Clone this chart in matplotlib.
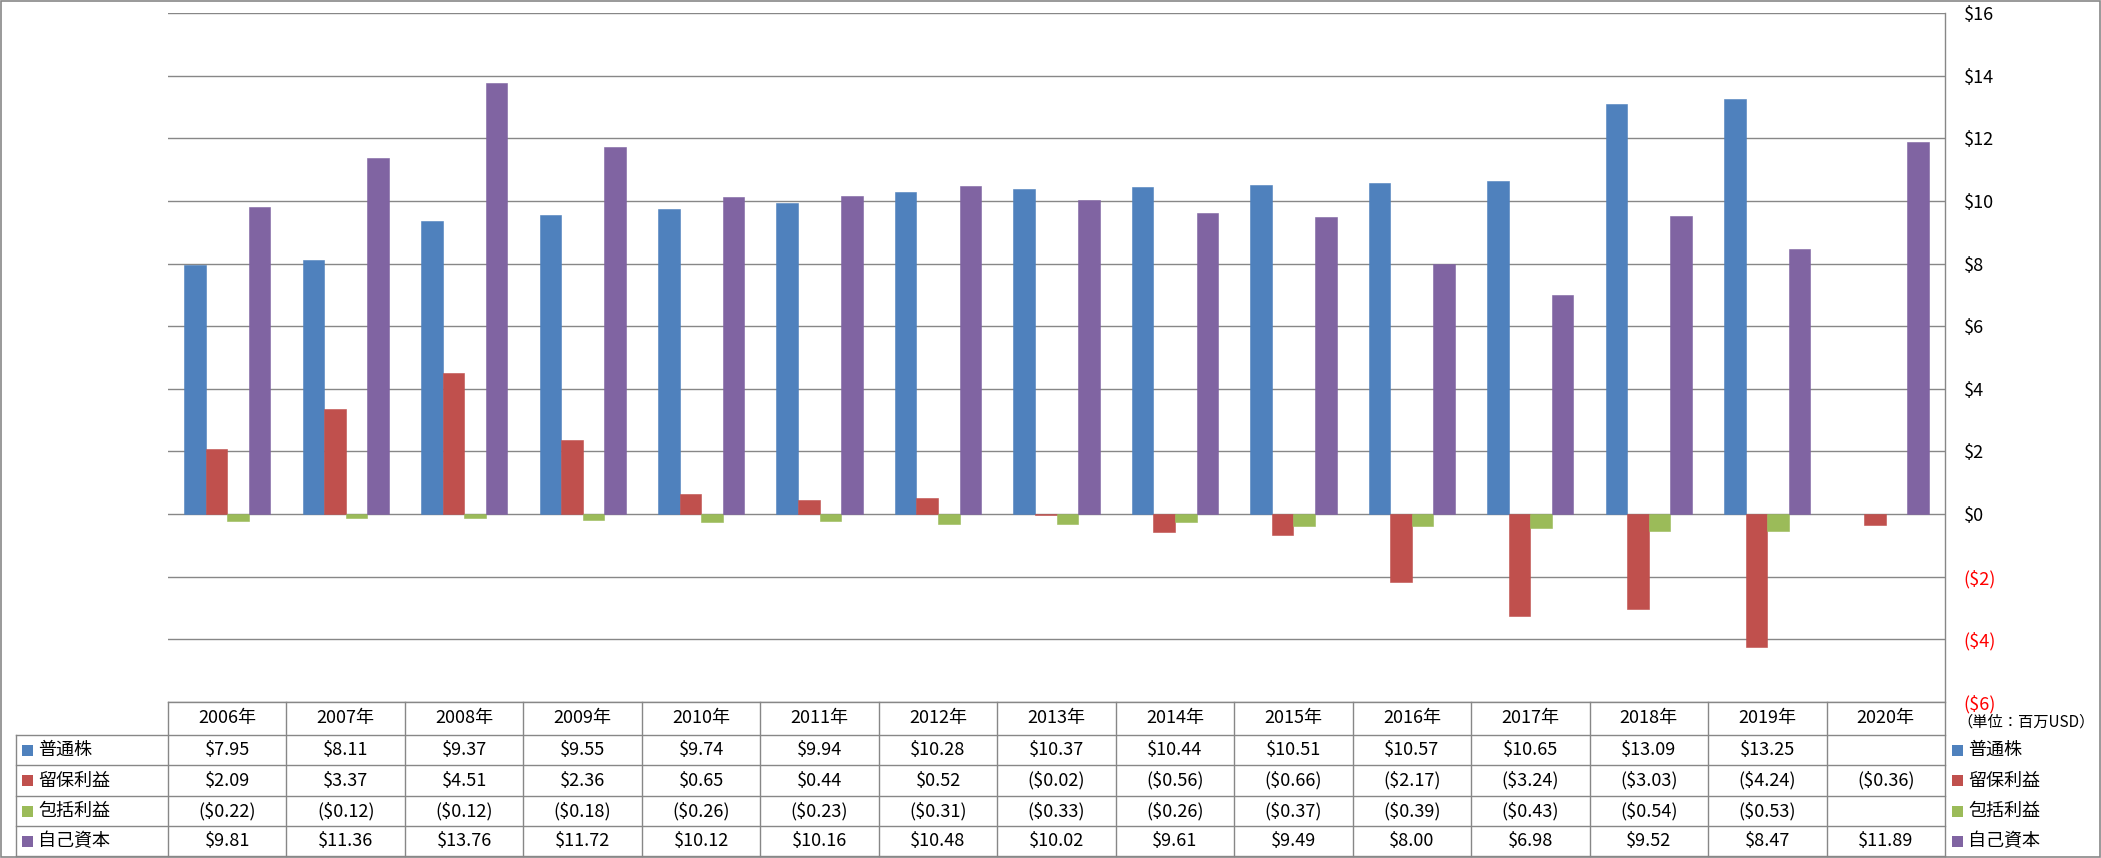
import matplotlib
matplotlib.use("Agg")
import matplotlib.pyplot as plt
import numpy as np
from matplotlib.lines import Line2D
from matplotlib.patches import Rectangle

plt.rcParams['font.family'] = ['Noto Sans CJK JP', 'DejaVu Sans']

years = ['2006年', '2007年', '2008年', '2009年', '2010年', '2011年', '2012年', '2013年',
         '2014年', '2015年', '2016年', '2017年', '2018年', '2019年', '2020年']
series_names = ['普通株', '留保利益', '包括利益', '自己資本']
common_stock = [7.95, 8.11, 9.37, 9.55, 9.74, 9.94, 10.28, 10.37, 10.44, 10.51, 10.57, 10.65, 13.09, 13.25, None]
retained_earnings = [2.09, 3.37, 4.51, 2.36, 0.65, 0.44, 0.52, -0.02, -0.56, -0.66, -2.17, -3.24, -3.03, -4.24, -0.36]
comprehensive_income = [-0.22, -0.12, -0.12, -0.18, -0.26, -0.23, -0.31, -0.33, -0.26, -0.37, -0.39, -0.43, -0.54, -0.53, None]
equity = [9.81, 11.36, 13.76, 11.72, 10.12, 10.16, 10.48, 10.02, 9.61, 9.49, 8.00, 6.98, 9.52, 8.47, 11.89]
yticks = [-6, -4, -2, 0, 2, 4, 6, 8, 10, 12, 14, 16]
unit_label = '（単位：百万USD）'

series = [common_stock, retained_earnings, comprehensive_income, equity]
colors = ['#4F81BD', '#C0504D', '#9BBB59', '#8064A2']
GRID = '#878787'
FS = 13

W, H = 2101, 858
fig = plt.figure(figsize=(W / 100, H / 100), dpi=100)
fig.patch.set_facecolor('white')


def fx(px):
    return px / W


def fy(py):
    return 1 - py / H


PL, PR, PT, PB = 168, 1945, 13, 702
ax = fig.add_axes([fx(PL), fy(PB), (PR - PL) / W, (PB - PT) / H])
ax.set_xlim(-0.5, len(years) - 0.5)
ax.set_ylim(yticks[0], yticks[-1])

n = len(series)
bw = 1 / (n + 1.5)
x = np.arange(len(years))
for i, (vals, c) in enumerate(zip(series, colors)):
    v = np.array([np.nan if a is None else a for a in vals], dtype=float)
    ax.bar(x + (i - (n - 1) / 2) * bw, v, width=bw, color=c, zorder=3,
           edgecolor=c, linewidth=0.4)


def money(v, short=False):
    if short:
        s = f"${abs(v):.0f}"
    else:
        s = f"${abs(v):.2f}"
    return f"({s})" if v < 0 else s


ax.set_yticks(yticks)
ax.yaxis.tick_right()
ax.set_yticklabels([money(t, True) for t in yticks])
for lbl, t in zip(ax.get_yticklabels(), yticks):
    lbl.set_color('#FF0000' if t < 0 else 'black')
ax.tick_params(axis='y', length=0, pad=13.5, labelsize=FS)
ax.set_xticks([])
ax.grid(axis='y', color=GRID, linewidth=1.0, zorder=0)
for s in ax.spines.values():
    s.set_visible(False)


def hline(y, x0, x1):
    fig.add_artist(Line2D([fx(x0), fx(x1)], [fy(y), fy(y)], transform=fig.transFigure,
                          color=GRID, lw=1.0))


def vline(xp, y0, y1):
    fig.add_artist(Line2D([fx(xp), fx(xp)], [fy(y0), fy(y1)], transform=fig.transFigure,
                          color=GRID, lw=1.0))


# outer frame
fig.add_artist(Rectangle((fx(1), fy(857)), (W - 2) / W, 856 / H, transform=fig.transFigure,
                         fill=False, edgecolor=GRID, lw=1.2))

# right axis line
vline(PR, PT, 856)

# data table
rows = [702, 735, 765, 796, 826, 856]
TL = 16
colw = (PR - PL) / len(years)
hline(rows[0], PL, PR)
for r in rows[1:]:
    hline(r, TL, PR)
vline(TL, rows[1], rows[-1])
for k in range(len(years)):
    vline(PL + k * colw, rows[0], rows[-1])

for k, yr in enumerate(years):
    cx = PL + (k + 0.5) * colw
    fig.text(fx(cx), fy((rows[0] + rows[1]) / 2), yr, ha='center', va='center', fontsize=FS)
    for i, vals in enumerate(series):
        v = vals[k]
        if v is None:
            continue
        cy = (rows[i + 1] + rows[i + 2]) / 2
        fig.text(fx(cx), fy(cy), money(v), ha='center', va='center', fontsize=FS)

SQ = 11
for i, name in enumerate(series_names):
    cy = (rows[i + 1] + rows[i + 2]) / 2
    # row label in table
    fig.add_artist(Rectangle((fx(22), fy(cy + SQ / 2)), SQ / W, SQ / H, transform=fig.transFigure,
                             facecolor=colors[i], edgecolor='none'))
    fig.text(fx(38), fy(cy), name, ha='left', va='center', fontsize=FS)
    # legend on the right
    fig.add_artist(Rectangle((fx(1952), fy(cy + SQ / 2)), SQ / W, SQ / H, transform=fig.transFigure,
                             facecolor=colors[i], edgecolor='none'))
    fig.text(fx(1968), fy(cy), name, ha='left', va='center', fontsize=FS)

fig.text(fx(1957), fy(722), unit_label, ha='left', va='center', fontsize=11)

fig.savefig('out.png', dpi=100, facecolor='white')
